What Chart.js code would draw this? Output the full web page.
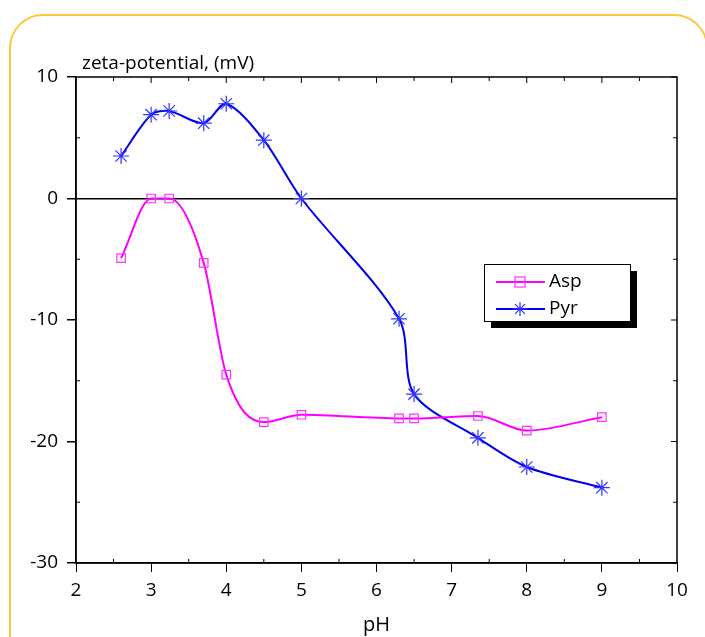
<!DOCTYPE html>
<html>
<head>
<meta charset="utf-8">
<script src="https://cdn.jsdelivr.net/npm/chart.js@4/dist/chart.umd.min.js"></script>
<style>
  html, body { margin: 0; padding: 0; background: #fff; }
  #wrap { position: relative; width: 705px; height: 637px; overflow: hidden; }
  #frame {
    position: absolute; left: 9px; top: 14px; width: 699px; height: 700px;
    border: 2px solid #fcc93c; border-radius: 34px; box-sizing: border-box;
  }
  #salesChart { position: absolute; left: 0; top: 0; }
</style>
</head>
<body>
<div id="wrap">
  <div id="frame"></div>
  <canvas id="salesChart" width="705" height="637"></canvas>
</div>
<script>
  // values
  const phValues = [2.6, 3.0, 3.24, 3.7, 4.0, 4.5, 5.0, 6.3, 6.5, 7.35, 8.0, 9.0];
  const aspZeta = [-4.9, 0, 0, -5.3, -14.5, -18.4, -17.8, -18.1, -18.1, -17.9, -19.1, -18.0];
  const pyrZeta = [3.5, 6.9, 7.2, 6.2, 7.8, 4.8, 0, -9.9, -16.1, -19.7, -22.1, -23.8];
  const xTicks = [2, 3, 4, 5, 6, 7, 8, 9, 10];
  const yTicks = [-30, -20, -10, 0, 10];
  const seriesNames = ["Asp", "Pyr"];

  const FONT = "'Open Sans', sans-serif";

  const toPoints = (ys) => phValues.map((x, i) => ({ x: x, y: ys[i] }));

  // frame, minor ticks, y title and boxed legend with shadow
  const extras = {
    id: "extras",
    afterDraw(chart) {
      const ctx = chart.ctx;
      const a = chart.chartArea;
      const xs = chart.scales.x;
      const ys = chart.scales.y;
      ctx.save();
      ctx.strokeStyle = "#000";
      ctx.lineWidth = 1.5;
      ctx.strokeRect(a.left, a.top, a.right - a.left, a.bottom - a.top);

      ctx.lineWidth = 1;
      for (let v = 2.5; v < 10; v += 1) {
        const px = xs.getPixelForValue(v);
        ctx.beginPath();
        ctx.moveTo(px, a.bottom); ctx.lineTo(px, a.bottom - 4);
        ctx.moveTo(px, a.top); ctx.lineTo(px, a.top + 4);
        ctx.stroke();
      }
      for (let v = -25; v < 10; v += 10) {
        const py = ys.getPixelForValue(v);
        ctx.beginPath();
        ctx.moveTo(a.left, py); ctx.lineTo(a.left + 4, py);
        ctx.moveTo(a.right, py); ctx.lineTo(a.right - 4, py);
        ctx.stroke();
      }
      yTicks.forEach((v) => {
        const py = ys.getPixelForValue(v);
        ctx.beginPath();
        ctx.moveTo(a.right, py); ctx.lineTo(a.right - 6, py);
        ctx.stroke();
      });
      for (let v = 3; v < 10; v += 1) {
        const px = xs.getPixelForValue(v);
        ctx.beginPath();
        ctx.moveTo(px, a.top); ctx.lineTo(px, a.top + 6);
        ctx.stroke();
      }

      ctx.fillStyle = "#000";
      ctx.font = "19px " + FONT;
      ctx.textAlign = "left";
      ctx.textBaseline = "alphabetic";
      ctx.fillText("zeta-potential, (mV)", a.left + 6, a.top - 8);

      // legend box
      const lx = 484, ly = 264, lw = 146, lh = 57;
      ctx.fillStyle = "#000";
      ctx.fillRect(lx + 7, ly + 7, lw, lh);
      ctx.fillStyle = "#fff";
      ctx.fillRect(lx, ly, lw, lh);
      ctx.strokeStyle = "#000";
      ctx.lineWidth = 1;
      ctx.strokeRect(lx + 0.5, ly + 0.5, lw, lh);

      chart.data.datasets.forEach((ds, i) => {
        const cy = ly + 18 + i * 27;
        ctx.strokeStyle = ds.borderColor;
        ctx.lineWidth = 2;
        ctx.beginPath();
        ctx.moveTo(lx + 12, cy); ctx.lineTo(lx + 61, cy);
        ctx.stroke();
        ctx.lineWidth = 1.2;
        ctx.strokeStyle = ds.pointBorderColor;
        if (ds.pointStyle === "rect") {
          ctx.strokeRect(lx + 31, cy - 5, 10, 10);
        } else {
          ctx.beginPath();
          for (let k = 0; k < 4; k++) {
            const ang = k * Math.PI / 4;
            ctx.moveTo(lx + 36 - 7 * Math.cos(ang), cy - 7 * Math.sin(ang));
            ctx.lineTo(lx + 36 + 7 * Math.cos(ang), cy + 7 * Math.sin(ang));
          }
          ctx.stroke();
        }
        ctx.fillStyle = "#000";
        ctx.font = "19px " + FONT;
        ctx.textBaseline = "middle";
        ctx.fillText(ds.label, lx + 65, cy);
      });
      ctx.restore();
    },
  };

  const ctx = document.getElementById("salesChart").getContext("2d");

  new Chart(ctx, {
    type: "line",
    data: {
      datasets: [
        {
          label: seriesNames[0],
          data: toPoints(aspZeta),
          borderColor: "#ff00ff",
          backgroundColor: "rgba(0,0,0,0)",
          borderWidth: 2,
          cubicInterpolationMode: "monotone",
          pointStyle: "rect",
          pointRadius: 6,
          pointBorderWidth: 1.2,
          pointBorderColor: "#ff33ff",
          pointBackgroundColor: "rgba(0,0,0,0)",
        },
        {
          label: seriesNames[1],
          data: toPoints(pyrZeta),
          borderColor: "#0000ee",
          backgroundColor: "rgba(0,0,0,0)",
          borderWidth: 2,
          tension: 0.3,
          pointStyle: "star",
          pointRadius: 8,
          pointBorderWidth: 1.2,
          pointBorderColor: "#3333ff",
          pointBackgroundColor: "rgba(0,0,0,0)",
        },
      ],
    },
    options: {
      responsive: false,
      animation: false,
      maintainAspectRatio: false,
      layout: { padding: { top: 77, right: 28, left: 0, bottom: 0 } },
      plugins: {
        legend: { display: false },
        tooltip: { enabled: false },
      },
      scales: {
        x: {
          type: "linear",
          min: 2,
          max: 10,
          afterBuildTicks: (s) => { s.ticks = xTicks.map((v) => ({ value: v })); },
          afterFit: (s) => { s.height = 74; },
          border: { display: true, color: "#000", width: 1.5 },
          grid: {
            drawOnChartArea: false,
            drawTicks: true,
            tickLength: 9,
            tickColor: "#000",
          },
          ticks: {
            color: "#000",
            font: { family: FONT, size: 19 },
            padding: 7,
          },
          title: {
            display: true,
            text: "pH",
            color: "#000",
            font: { family: FONT, size: 20 },
            padding: { top: 1, bottom: 0 },
          },
        },
        y: {
          type: "linear",
          min: -30,
          max: 10,
          afterBuildTicks: (s) => { s.ticks = yTicks.map((v) => ({ value: v })); },
          afterFit: (s) => { s.width = 76; },
          border: { display: true, color: "#000", width: 1.5 },
          grid: {
            drawTicks: true,
            tickLength: 9,
            tickColor: "#000",
            lineWidth: 1.5,
            color: (c) => (c.tick && c.tick.value === 0 ? "#000" : "rgba(0,0,0,0)"),
          },
          ticks: {
            color: "#000",
            font: { family: FONT, size: 19 },
            padding: 9,
          },
        },
      },
    },
    plugins: [extras],
  });
</script>
</body>
</html>
